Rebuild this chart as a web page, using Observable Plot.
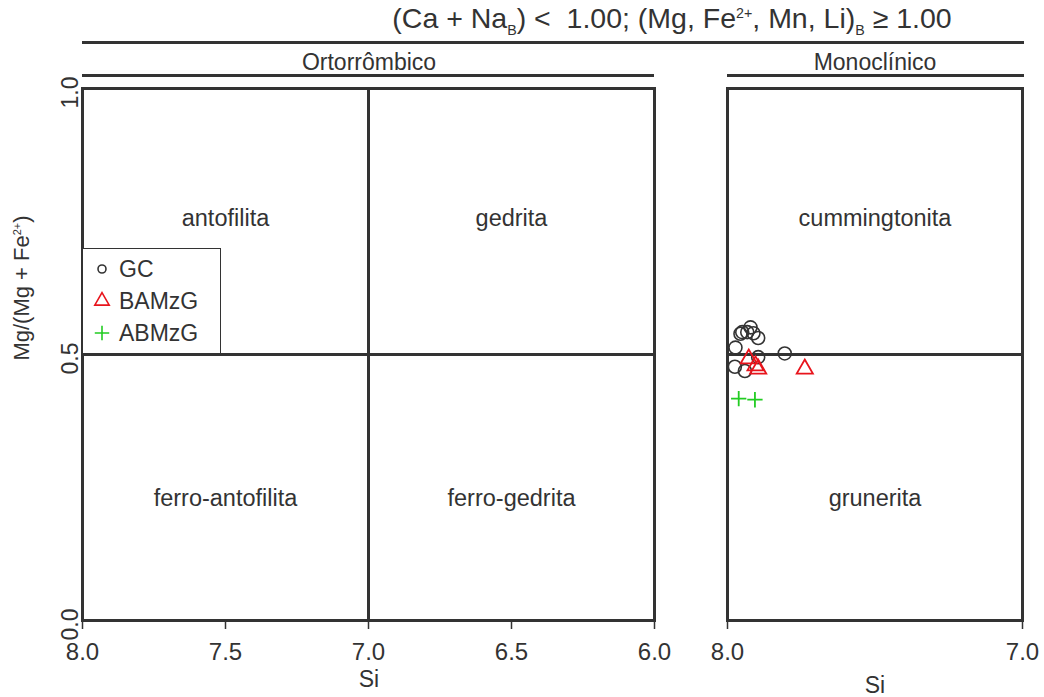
<!DOCTYPE html>
<html><head><meta charset="utf-8">
<script src="https://cdn.jsdelivr.net/npm/d3@7"></script>
<script src="https://cdn.jsdelivr.net/npm/@observablehq/plot@0.6"></script>
<style>
body{margin:0;background:#fff;}
#wrap{position:relative;width:1044px;height:697px;font-family:"Liberation Sans",Arial,sans-serif;color:#333;overflow:hidden;}
.abs{position:absolute;}
.hline{position:absolute;height:3px;background:#333;}
.ctr{transform:translate(-50%,-50%);white-space:nowrap;}
sub,sup{font-size:50%;}
#legend{position:absolute;left:82px;top:248px;width:139px;height:106px;border:1px solid #333;background:#fff;box-sizing:border-box;}
.li{position:absolute;left:4px;height:30px;display:flex;align-items:center;font-size:23px;}
.li svg{width:30px;height:30px;}
.li span{margin-left:2px;}
</style></head><body><div id="wrap"></div>
<script>
// ---- data ----
const gcSi  = [7.950, 7.922, 7.933, 7.912, 7.896, 7.956, 7.973, 7.975, 7.941, 7.896, 7.806];
const gcMg  = [0.542, 0.551, 0.542, 0.540, 0.531, 0.539, 0.513, 0.477, 0.469, 0.495, 0.502];
const bamSi = [7.928, 7.905, 7.896, 7.738];
const bamMg = [0.492, 0.479, 0.473, 0.473];
const abmSi = [7.962, 7.907];
const abmMg = [0.417, 0.415];

const groups = ["GC", "BAMzG", "ABMzG"];
const groupColors = ["#333333", "#e8141c", "#22cc22"];
const groupSymbols = ["circle", "triangle", "plus"];

const leftTicks = [8.0, 7.5, 7.0, 6.5, 6.0];
const rightTicks = [8.0, 7.0];
const yTicks = [0.0, 0.5, 1.0];

const leftRegions = ["antofilita", "gedrita", "ferro-antofilita", "ferro-gedrita"];
const leftRegionSi = [7.5, 6.5, 7.5, 6.5];
const leftRegionMg = [0.755, 0.755, 0.23, 0.23];
const rightRegions = ["cummingtonita", "grunerita"];
const rightRegionSi = [7.5, 7.5];
const rightRegionMg = [0.755, 0.23];

// ---- build tables ----
const points = [
  ...gcSi.map((s, i) => ({g: "GC", si: s, mg: gcMg[i]})),
  ...bamSi.map((s, i) => ({g: "BAMzG", si: s, mg: bamMg[i]})),
  ...abmSi.map((s, i) => ({g: "ABMzG", si: s, mg: abmMg[i]}))
];
const leftLab = leftRegions.map((t, i) => ({t, x: leftRegionSi[i], y: leftRegionMg[i]}));
const rightLab = rightRegions.map((t, i) => ({t, x: rightRegionSi[i], y: rightRegionMg[i]}));

const wrap = document.getElementById("wrap");
const H = 697, mTop = 88, mBot = 77;
const ink = "#333";
const font = "Liberation Sans, Arial, sans-serif";
const axisOpts = {tickFormat: ".1f", tickSize: 9, tickPadding: 13, fontSize: 24, label: null, strokeWidth: 1.5};

const left = Plot.plot({
  width: 690, height: H,
  marginLeft: 82, marginRight: 36, marginTop: mTop, marginBottom: mBot,
  x: {domain: [8, 6], type: "linear"},
  y: {domain: [0, 1]},
  style: {fontFamily: font, color: ink, background: "transparent"},
  marks: [
    Plot.ruleX([7], {stroke: ink, strokeWidth: 3}),
    Plot.ruleY([0.5], {stroke: ink, strokeWidth: 3}),
    Plot.frame({stroke: ink, strokeWidth: 3}),
    Plot.text(leftLab, {x: "x", y: "y", text: "t", fontSize: 23.5, fill: ink}),
    Plot.axisX({ticks: leftTicks, ...axisOpts}),
    Plot.axisY({ticks: [], label: null}),
    Plot.text(yTicks, {y: d => d, text: d => d.toFixed(1), frameAnchor: "left", rotate: -90, dx: -5, dy: 4, textAnchor: "middle", lineAnchor: "bottom", fontSize: 23, fill: ink})
  ]
});
left.style.position = "absolute"; left.style.left = "0px"; left.style.top = "0px";
wrap.appendChild(left);

const right = Plot.plot({
  width: 354, height: H,
  marginLeft: 37, marginRight: 22, marginTop: mTop, marginBottom: mBot,
  x: {domain: [8, 7], type: "linear"},
  y: {domain: [0, 1]},
  color: {domain: groups, range: groupColors},
  symbol: {domain: groups, range: groupSymbols},
  style: {fontFamily: font, color: ink, background: "transparent"},
  marks: [
    Plot.ruleY([0.5], {stroke: ink, strokeWidth: 3}),
    Plot.frame({stroke: ink, strokeWidth: 3}),
    Plot.text(rightLab, {x: "x", y: "y", text: "t", fontSize: 23.5, fill: ink}),
    Plot.dot(points.filter(d => d.g === "GC"), {x: "si", y: "mg", stroke: "g", symbol: "g", r: 6.5, strokeWidth: 1.6}),
    Plot.dot(points.filter(d => d.g === "BAMzG"), {x: "si", y: "mg", stroke: "g", symbol: "g", r: 6, strokeWidth: 1.8}),
    Plot.dot(points.filter(d => d.g === "ABMzG"), {x: "si", y: "mg", stroke: "g", symbol: "g", r: 5, strokeWidth: 1.8}),
    Plot.axisX({ticks: rightTicks, ...axisOpts}),
    Plot.axisY({ticks: [], label: null})
  ]
});
right.style.position = "absolute"; right.style.left = "690px"; right.style.top = "0px";
wrap.appendChild(right);

// ---- headers, axis titles, legend (HTML) ----
function add(html, x, y, size) {
  const d = document.createElement("div");
  d.className = "abs ctr";
  d.style.left = x + "px"; d.style.top = y + "px"; d.style.fontSize = size + "px";
  d.innerHTML = html;
  wrap.appendChild(d);
  return d;
}
function line(x1, x2, y) {
  const d = document.createElement("div");
  d.className = "hline";
  d.style.left = x1 + "px"; d.style.width = (x2 - x1) + "px"; d.style.top = (y - 1.5) + "px";
  wrap.appendChild(d);
}
add("(Ca + Na<sub>B</sub>) &lt;&nbsp; 1.00; (Mg, Fe<sup>2+</sup>, Mn, Li)<sub>B</sub> ≥ 1.00", 672, 20, 28.5);
line(82, 1024, 42);
add("Ortorrômbico", 369, 62, 23);
line(82, 654, 75);
add("Monoclínico", 875, 62, 23);
line(727, 1024, 75);
add("Si", 369, 679, 23);
add("Si", 875, 685, 23);
const yl = add("Mg/(Mg + Fe<sup>2+</sup>)", 22, 288, 22);
yl.style.transform = "translate(-50%,-50%) rotate(-90deg)";

const leg = document.createElement("div");
leg.id = "legend";
const symSizes = [50, 90, 70];
groups.forEach((g, i) => {
  const item = document.createElement("div");
  item.className = "li";
  item.style.top = (5 + i * 32) + "px";
  const name = "symbol" + groupSymbols[i][0].toUpperCase() + groupSymbols[i].slice(1);
  const path = d3.symbol(d3[name], symSizes[i])();
  item.innerHTML = `<svg viewBox="-15 -15 30 30"><path d="${path}" fill="none" stroke="${groupColors[i]}" stroke-width="1.6"/></svg><span>${g}</span>`;
  leg.appendChild(item);
});
wrap.appendChild(leg);
</script>
</body></html>
